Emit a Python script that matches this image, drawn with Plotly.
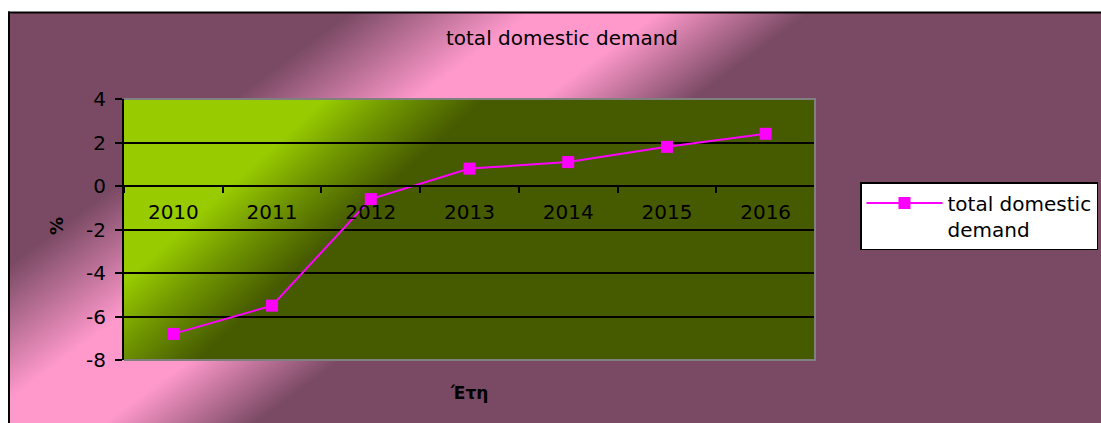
import base64
import plotly.graph_objects as go

# Series
years = ["2010", "2011", "2012", "2013", "2014", "2015", "2016"]
demand = [-6.8, -5.5, -0.6, 0.8, 1.1, 1.8, 2.4]
y_ticks = [-8, -6, -4, -2, 0, 2, 4]
y_tick_text = ["-8", "-6", "-4", "-2", "0", "2", "4"]

# Canvas and plot-area geometry (px)
W, H = 1101, 423
L, R, T, B = 124, 286, 99, 63
PW, PH = W - L - R, H - T - B
BW, BH = W + 40, H + 40  # background art runs past the canvas edges

FONT = "DejaVu Sans"
PURPLE = "#7A4A64"
PINK = "#FF99CC"
LIME = "#99CC00"
OLIVE = "#465A00"
MAGENTA = "#FF00FF"


def svg_uri(svg):
    return "data:image/svg+xml;base64," + base64.b64encode(svg.encode("utf-8")).decode()


# Chart-area fill: purple with a diagonal pink band, black frame on top/left
frame_svg = f"""<svg xmlns="http://www.w3.org/2000/svg" width="{BW}" height="{BH}" viewBox="0 0 {BW} {BH}" preserveAspectRatio="none">
<defs><linearGradient id="band" gradientUnits="userSpaceOnUse" x1="0" y1="0" x2="357" y2="482">
<stop offset="0.365" stop-color="{PURPLE}"/><stop offset="0.545" stop-color="{PINK}"/>
<stop offset="0.67" stop-color="{PINK}"/><stop offset="0.82" stop-color="{PURPLE}"/>
</linearGradient></defs>
<rect x="0" y="0" width="{BW}" height="{BH}" fill="#FFFFFF"/>
<rect x="9" y="12.5" width="{BW}" height="{BH}" fill="url(#band)"/>
<line x1="8" y1="12.5" x2="{BW}" y2="12.5" stroke="#000000" stroke-width="2"/>
<line x1="9" y1="11.5" x2="9" y2="{BH}" stroke="#000000" stroke-width="2"/>
</svg>"""

# Plot-area fill: lime fading diagonally into dark olive
plot_svg = f"""<svg xmlns="http://www.w3.org/2000/svg" width="{PW}" height="{PH}" viewBox="0 0 {PW} {PH}" preserveAspectRatio="none">
<defs><linearGradient id="lime" gradientUnits="userSpaceOnUse" x1="0" y1="0" x2="202" y2="222">
<stop offset="0.45" stop-color="{LIME}"/><stop offset="0.62" stop-color="#6E9300"/>
<stop offset="0.81" stop-color="{OLIVE}"/>
</linearGradient></defs>
<rect x="0" y="0" width="{PW}" height="{PH}" fill="url(#lime)"/>
</svg>"""

fig = go.Figure()
fig.add_trace(go.Scatter(
    x=years, y=demand, mode="lines+markers",
    name="total domestic<br>demand",
    line=dict(color=MAGENTA, width=2),
    marker=dict(symbol="square", size=12, color=MAGENTA, line=dict(width=0)),
))

fig.update_layout(
    width=W, height=H,
    margin=dict(l=L, r=R, t=T, b=B, autoexpand=False),
    paper_bgcolor="#FFFFFF",
    plot_bgcolor="rgba(0,0,0,0)",
    font=dict(family=FONT, size=20, color="#000000"),
    title=dict(text="total domestic demand", x=562 / W, xref="container", xanchor="center",
               y=1 - 38 / H, yref="container", yanchor="middle",
               font=dict(family=FONT, size=20, color="#000000")),
    xaxis=dict(
        type="category", range=[-0.5, len(years) - 0.5],
        anchor="free", position=(0 - y_ticks[0]) / (y_ticks[-1] - y_ticks[0]),
        showline=True, linecolor="#000000", linewidth=2,
        ticks="outside", tickson="boundaries", ticklen=6, tickwidth=2, tickcolor="#000000",
        showgrid=False, zeroline=False,
        tickfont=dict(family=FONT, size=20, color="#000000"),
        ticklabelstandoff=8,
    ),
    yaxis=dict(
        range=[y_ticks[0], y_ticks[-1]], tickvals=y_ticks, ticktext=y_tick_text,
        showline=True, linecolor="#000000", linewidth=2,
        ticks="outside", ticklen=7, tickwidth=2, tickcolor="#000000",
        showgrid=True, gridcolor="#000000", gridwidth=1.5, zeroline=False,
        tickfont=dict(family=FONT, size=20, color="#000000"),
        ticklabelstandoff=5,
    ),
    legend=dict(
        x=(860 - L) / PW, y=1 - (182 - T) / PH, xanchor="left", yanchor="top",
        bgcolor="#FFFFFF", bordercolor="#000000", borderwidth=1.5,
        font=dict(family=FONT, size=20, color="#000000"), valign="top",
        itemwidth=76,
    ),
    showlegend=True,
    images=[
        dict(source=svg_uri(frame_svg), xref="paper", yref="paper",
             x=-L / PW, y=1 + T / PH, sizex=BW / PW, sizey=BH / PH,
             xanchor="left", yanchor="top", sizing="stretch", layer="below"),
        dict(source=svg_uri(plot_svg), xref="paper", yref="paper",
             x=0, y=1, sizex=1, sizey=1,
             xanchor="left", yanchor="top", sizing="stretch", layer="below"),
    ],
    shapes=[
        # grey plot-area border on top, right and bottom
        dict(type="path", xref="paper", yref="paper", path="M 0,1 L 1,1 L 1,0 L 0,0",
             line=dict(color="#808080", width=2), layer="above"),
    ],
    annotations=[
        dict(text="<b>%</b>", xref="paper", yref="paper", x=(56 - L) / PW, y=1 - (226 - T) / PH,
             textangle=-90, showarrow=False, xanchor="center", yanchor="middle",
             font=dict(family=FONT, size=18, color="#000000")),
        dict(text="<b>Έτη</b>", xref="paper", yref="paper", x=(469 - L) / PW, y=1 - (393 - T) / PH,
             showarrow=False, xanchor="center", yanchor="middle",
             font=dict(family=FONT, size=17, color="#000000")),
    ],
)

fig.write_html("out.html")
